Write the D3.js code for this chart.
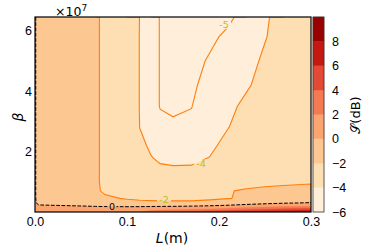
<!DOCTYPE html>
<html>
<head>
<meta charset="utf-8">
<script src="https://cdn.jsdelivr.net/npm/d3@7"></script>
<style>
  body { margin: 0; background: #fff; }
  svg { display: block; font-family: "DejaVu Sans", sans-serif; }
</style>
</head>
<body>
<svg width="374" height="251"></svg>
<script>

// grid: L (m) columns, beta rows, S (dB) values
const lengths = [0, 0.004, 0.04, 0.066, 0.076, 0.1, 0.114, 0.126, 0.136, 0.15, 0.17, 0.19, 0.21, 0.23, 0.25, 0.27, 0.3];
const betas = [0, 0.1e7, 0.2e7, 0.3e7, 0.45e7, 0.7e7, 1.0e7, 1.4e7, 1.8e7, 2.2e7, 2.8e7, 3.5e7, 4.2e7, 5.0e7, 5.8e7, 6.45e7];
const sdB = [
  [1.2, 1.0, 1.0, 1.0, 1.1, 1.4, 2.0, 3.0, 3.6, 4.2, 4.8, 5.4, 6.0, 6.5, 7.0, 7.4, 7.9],
  [1.0, 0.6, 0.6, 0.6, 0.6, 0.6, 0.7, 0.9, 1.1, 1.3, 1.6, 2.0, 2.6, 3.2, 3.8, 4.3, 4.8],
  [0.6, 0.3, 0.05, -0.1, -0.15, -0.2, -0.2, -0.2, -0.2, -0.2, -0.1, 0.1, 0.35, 0.7, 1.0, 1.4, 1.8],
  [0.3, -0.6, -0.8, -1.0, -1.2, -1.6, -1.7, -1.75, -1.8, -1.8, -1.8, -1.6, -1.1, -0.7, -0.4, -0.15, 0.1],
  [0.3, -1.1, -1.3, -1.6, -1.8, -2.1, -2.2, -2.25, -2.25, -2.25, -2.25, -2.2, -2.05, -1.8, -1.5, -1.4, -1.3],
  [0.3, -1.2, -1.4, -1.8, -2.2, -2.6, -2.7, -2.8, -2.8, -2.8, -2.7, -2.5, -2.1, -1.8, -1.6, -1.5, -1.4],
  [0.3, -1.2, -1.4, -1.8, -2.3, -3.0, -3.0, -3.2, -3.3, -3.35, -3.35, -3.2, -3.0, -2.7, -2.5, -2.35, -2.2],
  [0.3, -1.2, -1.4, -1.8, -2.3, -3.0, -3.3, -3.6, -3.8, -3.85, -3.85, -3.7, -3.4, -3.1, -2.9, -2.7, -2.6],
  [0.3, -1.2, -1.4, -1.8, -2.3, -3.0, -3.5, -3.95, -4.2, -4.3, -4.25, -3.98, -3.6, -3.3, -3.1, -2.9, -2.7],
  [0.3, -1.2, -1.4, -1.8, -2.3, -3.0, -3.7, -4.2, -4.4, -4.5, -4.45, -4.2, -3.7, -3.4, -3.2, -3.0, -2.8],
  [0.3, -1.2, -1.4, -1.8, -2.3, -3.0, -4.02, -4.4, -4.7, -4.85, -4.85, -4.5, -4.02, -3.6, -3.3, -3.1, -2.9],
  [0.3, -1.2, -1.4, -1.8, -2.3, -3.0, -4.05, -4.5, -5.05, -5.15, -5.02, -4.6, -4.2, -3.8, -3.5, -3.3, -3.0],
  [0.3, -1.2, -1.4, -1.8, -2.3, -3.0, -4.05, -4.5, -5.05, -5.3, -5.15, -4.7, -4.4, -4.1, -3.7, -3.4, -3.1],
  [0.3, -1.2, -1.4, -1.8, -2.3, -3.0, -4.05, -4.5, -5.05, -5.3, -5.3, -4.9, -4.6, -4.3, -3.85, -3.5, -3.2],
  [0.3, -1.2, -1.4, -1.8, -2.3, -3.0, -4.05, -4.5, -5.05, -5.4, -5.4, -5.2, -4.8, -4.4, -4.05, -3.6, -3.2],
  [0.3, -1.2, -1.4, -1.8, -2.3, -3.0, -4.03, -4.5, -5.05, -5.4, -5.5, -5.5, -5.2, -4.6, -4.1, -3.7, -3.2]
];

const fillLevels = [-6, -4, -2, 0, 2, 4, 6, 8];
const topLevel = 10;
const lineLevels = [-5, -4, -2];
const dashedLevels = [0];
const xTicks = [0, 0.1, 0.2, 0.3];
const yTicks = [2e7, 4e7, 6e7];
const cbTicks = [-6, -4, -2, 0, 2, 4, 6, 8];

// inline labels: level, L, beta
const labelLevels = [-5, -4, -2, 0];
const labelL = [0.2054, 0.1804, 0.1402, 0.0837];
const labelBeta = [6.19e7, 1.60e7, 0.41e7, 0.165e7];


const svg = d3.select("svg");
const margin = { left: 35, right: 311, top: 17, bottom: 212 };

const x = d3.scaleLinear().domain([0, 0.3]).range([margin.left, margin.right]);
const y = d3.scaleLinear().domain([0, 6.45e7]).range([margin.bottom, margin.top]);

const bandColor = lv => d3.interpolateOrRd((fillLevels.indexOf(lv) + 0.5) / fillLevels.length);

const n = lengths.length, m = betas.length;
const values = sdB.flat();

// grid index -> data value (cell centres sit at i + 0.5)
const colIndex = d3.scaleLinear().domain(d3.range(n)).range(lengths).clamp(true);
const rowIndex = d3.scaleLinear().domain(d3.range(m)).range(betas).clamp(true);

const toPx = p => [x(colIndex(p[0] - 0.5)), y(rowIndex(p[1] - 0.5))];

const proj = d3.geoTransform({
  point: function (px, py) {
    const q = toPx([px, py]);
    this.stream.point(q[0], q[1]);
  }
});
const path = d3.geoPath(proj);

const contours = d3.contours().size([n, m]);

svg.append("defs").append("clipPath").attr("id", "plot-clip")
  .append("rect")
  .attr("x", margin.left).attr("y", margin.top)
  .attr("width", margin.right - margin.left)
  .attr("height", margin.bottom - margin.top);

const plot = svg.append("g").attr("clip-path", "url(#plot-clip)");

plot.selectAll("path.band")
  .data(contours.thresholds(fillLevels)(values))
  .enter()
  .append("path")
  .attr("class", "band")
  .attr("d", path)
  .attr("fill", d => bandColor(d.value))
  .attr("stroke", d => bandColor(d.value))
  .attr("stroke-width", 0.3);

// contour lines without the parts that run along the grid border
function onSameEdge(a, b) {
  return (a[0] <= 0 && b[0] <= 0) || (a[0] >= n && b[0] >= n) ||
         (a[1] <= 0 && b[1] <= 0) || (a[1] >= m && b[1] >= m);
}

function linePath(geom) {
  let d = "";
  geom.coordinates.forEach(poly => poly.forEach(ring => {
    ring.forEach((p, i) => {
      const q = toPx(p);
      const jump = i === 0 || onSameEdge(ring[i - 1], p);
      d += (jump ? "M" : "L") + q[0].toFixed(2) + "," + q[1].toFixed(2);
    });
  }));
  return d;
}

// mask out a gap around each inline label
const mask = svg.select("defs").append("mask")
  .attr("id", "label-gap")
  .attr("maskUnits", "userSpaceOnUse");
mask.append("rect").attr("x", 0).attr("y", 0).attr("width", 374).attr("height", 251).attr("fill", "#fff");
mask.selectAll("rect.gap")
  .data(labelLevels)
  .enter()
  .append("rect")
  .attr("class", "gap")
  .attr("x", (d, i) => x(labelL[i]) - (d < 0 ? 7 : 4.5))
  .attr("y", (d, i) => y(labelBeta[i]) - 4)
  .attr("width", d => d < 0 ? 14 : 9)
  .attr("height", 8)
  .attr("fill", "#000");

const lines = plot.append("g").attr("mask", "url(#label-gap)");

lines.selectAll("path.level")
  .data(lineLevels.map(lv => contours.contour(values, lv)))
  .enter()
  .append("path")
  .attr("class", "level")
  .attr("d", linePath)
  .attr("fill", "none")
  .attr("stroke", "#ff7f0e")
  .attr("stroke-width", 1.1);

lines.selectAll("path.zero")
  .data(dashedLevels.map(lv => contours.contour(values, lv)))
  .enter()
  .append("path")
  .attr("class", "zero")
  .attr("d", linePath)
  .attr("fill", "none")
  .attr("stroke", "#000")
  .attr("stroke-width", 1)
  .attr("stroke-dasharray", "3.7,1.6");

svg.selectAll("text.clabel")
  .data(labelLevels)
  .enter()
  .append("text")
  .attr("class", "clabel")
  .attr("x", (d, i) => x(labelL[i]))
  .attr("y", (d, i) => y(labelBeta[i]))
  .attr("dy", "0.36em")
  .attr("text-anchor", "middle")
  .style("font-size", "9.5px")
  .style("fill", d => d === 0 ? "#000" : "#bcbd22")
  .text(d => d);

// frame
svg.append("rect")
  .attr("x", margin.left).attr("y", margin.top)
  .attr("width", margin.right - margin.left)
  .attr("height", margin.bottom - margin.top)
  .attr("fill", "none")
  .attr("stroke", "#000")
  .attr("stroke-width", 1.2);

// axes
const xAxis = svg.append("g")
  .attr("transform", `translate(0,${margin.bottom})`)
  .call(d3.axisBottom(x).tickValues(xTicks).tickSize(0).tickPadding(5.5).tickFormat(d3.format(".1f")));
xAxis.select(".domain").remove();
xAxis.selectAll("text").style("font-size", "12.5px").attr("fill", "#000");

const yAxis = svg.append("g")
  .attr("transform", `translate(${margin.left},0)`)
  .call(d3.axisLeft(y).tickValues(yTicks).tickSize(0).tickPadding(3).tickFormat(d => d / 1e7));
yAxis.select(".domain").remove();
yAxis.selectAll("text").style("font-size", "12.5px").attr("fill", "#000");

const offset = svg.append("text")
  .attr("x", 55).attr("y", 15.5)
  .style("font-size", "12.5px");
offset.append("tspan").text("\u00d710");
offset.append("tspan").attr("dy", -5).style("font-size", "9px").text("7");

svg.append("text")
  .attr("x", 172).attr("y", 243)
  .attr("text-anchor", "middle")
  .style("font-size", "14px")
  .call(t => {
    t.append("tspan").style("font-style", "italic").text("L");
    t.append("tspan").text("(m)");
  });

svg.append("text")
  .attr("transform", "translate(23,117) rotate(-90)")
  .attr("text-anchor", "middle")
  .style("font-size", "14px")
  .style("font-style", "italic")
  .text("\u03b2");

// colorbar
const cb = { left: 313, right: 324 };
const cy = d3.scaleLinear().domain([fillLevels[0], topLevel]).range([margin.bottom, margin.top]);

svg.selectAll("rect.cb")
  .data(fillLevels)
  .enter()
  .append("rect")
  .attr("class", "cb")
  .attr("x", cb.left)
  .attr("y", d => cy(d + 2))
  .attr("width", cb.right - cb.left)
  .attr("height", d => cy(d) - cy(d + 2))
  .attr("fill", d => bandColor(d))
  .attr("stroke", d => bandColor(d))
  .attr("stroke-width", 0.3);

svg.append("rect")
  .attr("x", cb.left).attr("y", margin.top)
  .attr("width", cb.right - cb.left)
  .attr("height", margin.bottom - margin.top)
  .attr("fill", "none")
  .attr("stroke", "#333")
  .attr("stroke-width", 0.8);

const cbAxis = svg.append("g")
  .attr("transform", `translate(${cb.right},0)`)
  .call(d3.axisRight(cy).tickValues(cbTicks).tickSize(0).tickPadding(8).tickFormat(d => d < 0 ? "\u2212" + (-d) : d));
cbAxis.select(".domain").remove();
cbAxis.selectAll("text").style("font-size", "12.5px").attr("fill", "#000");

svg.append("text")
  .attr("transform", "translate(360,115) rotate(-90)")
  .attr("text-anchor", "middle")
  .style("font-size", "13px")
  .call(t => {
    t.append("tspan").text("\ud835\udcae");
    t.append("tspan").text("(dB)");
  });

</script>
</body>
</html>
